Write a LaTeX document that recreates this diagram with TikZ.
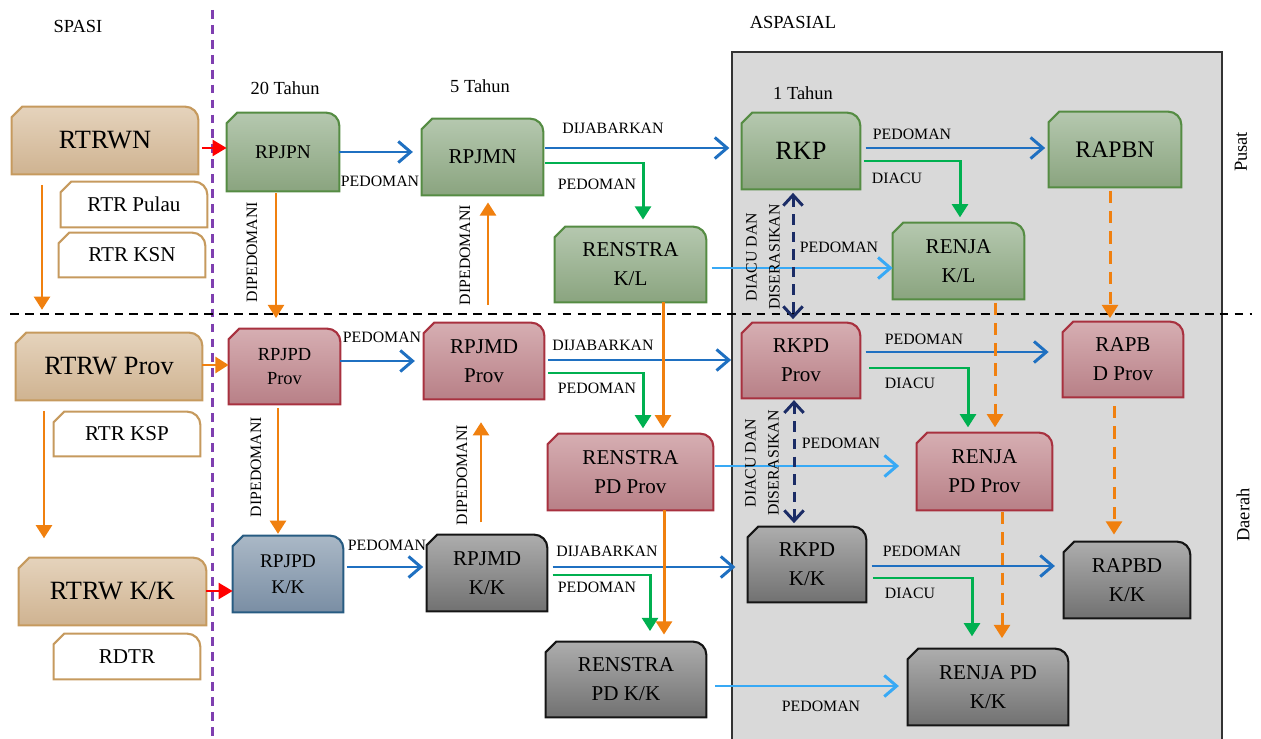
\documentclass[tikz,border=0pt]{standalone}
\usepackage{fontspec}
\setmainfont{Liberation Serif}
\usepackage{tikz}
\usetikzlibrary{calc,positioning,arrows.meta,backgrounds}

\definecolor{tanline}{HTML}{C69A5E}
\definecolor{tantop}{HTML}{E5D3BC}
\definecolor{tanbot}{HTML}{CFB391}
\definecolor{grnline}{HTML}{558C43}
\definecolor{grntop}{HTML}{B5C8AF}
\definecolor{grnbot}{HTML}{8AA47F}
\definecolor{redline}{HTML}{A8313F}
\definecolor{redtop}{HTML}{D6AEB2}
\definecolor{redbot}{HTML}{B88087}
\definecolor{bluline}{HTML}{285C82}
\definecolor{blutop}{HTML}{AAB8C6}
\definecolor{blubot}{HTML}{7A8EA4}
\definecolor{gryline}{HTML}{151515}
\definecolor{grytop}{HTML}{ADADAD}
\definecolor{grybot}{HTML}{717171}
\definecolor{panel}{HTML}{D9D9D9}
\definecolor{arblue}{HTML}{1F70C1}
\definecolor{arlight}{HTML}{38A9F5}
\definecolor{argreen}{HTML}{00B050}
\definecolor{arorange}{HTML}{F0800F}
\definecolor{arnavy}{HTML}{1B2C66}
\definecolor{arpurple}{HTML}{7F3FB0}

% box outline: cut top left corner, round top right corner
\newcommand{\planshape}[2]{%
  \path [#2] (#1.south west) -- ([yshift=-6pt]#1.north west)
    -- ([xshift=6pt]#1.north west) -- ([xshift=-7.5pt]#1.north east)
    arc [start angle=90, end angle=0, radius=7.5pt] -- (#1.south east) -- cycle;}

\begin{document}
\begin{tikzpicture}[
    x=0.02cm, y=-0.02cm,
    box/.style 2 args={inner sep=0pt, align=center,
        minimum width=#1*0.02cm, minimum height=#2*0.02cm},
    f15/.style={font=\fontsize{15}{19}\selectfont},
    f13/.style={font=\fontsize{13.5}{17}\selectfont},
    f12/.style={font=\fontsize{12}{16.5}\selectfont},
    f11/.style={font=\fontsize{11}{15}\selectfont},
    f10/.style={font=\fontsize{10.5}{14}\selectfont},
    lab/.style={font=\fontsize{9}{13}\selectfont, inner sep=0pt},
    head/.style={font=\fontsize{10.5}{12}\selectfont, inner sep=0pt},
    tanbox/.style={draw=tanline, line width=1.2pt, top color=tantop, bottom color=tanbot},
    whitebox/.style={draw=tanline, line width=1.2pt, fill=white},
    greenbox/.style={draw=grnline, line width=1.2pt, top color=grntop, bottom color=grnbot},
    redbox/.style={draw=redline, line width=1.2pt, top color=redtop, bottom color=redbot},
    bluebox/.style={draw=bluline, line width=1.2pt, top color=blutop, bottom color=blubot},
    greybox/.style={draw=gryline, line width=1.2pt, top color=grytop, bottom color=grybot},
    panelbox/.style={fill=panel, draw=black!80, line width=0.9pt},
    bluearrow/.style={draw=arblue, line width=1.7pt, -{Straight Barb[length=7pt,width=12pt]}},
    lightarrow/.style={draw=arlight, line width=1.7pt, -{Straight Barb[length=7pt,width=12pt]}},
    greenarrow/.style={draw=argreen, line width=1.7pt, -{Triangle[length=7.5pt,width=9pt]}},
    orangearrow/.style={draw=arorange, line width=1.7pt, -{Triangle[length=7.5pt,width=9pt]}},
    redarrow/.style={draw=red, line width=1.7pt, -{Triangle[length=8pt,width=9pt]}},
    orangedash/.style={orangearrow, dash pattern=on 7pt off 4.5pt},
    navyarrows/.style={draw=arnavy, line width=1.7pt, dash pattern=on 6pt off 4pt,
        {Straight Barb[length=6pt,width=11pt]}-{Straight Barb[length=6pt,width=11pt]}},
]
    \useasboundingbox (0,0) rectangle (1261,739);

    % headings
    \node[head] (spasi) at (78,26) {SPASI};
    \node[head] (aspasial) at (793,22) {ASPASIAL};
    \node[head] (t20) at (285,88) {20 Tahun};
    \node[head] (t5) at (480,86) {5 Tahun};
    \node[head] (t1) at (803,93) {1 Tahun};
    \node[head, rotate=90] (pusat) at (1241,152) {Pusat};
    \node[head, rotate=90] (daerah) at (1243,515) {Daerah};

    % pusat
    \node[box={186}{67}, f15] (rtrwn) at (105,140.5) {RTRWN};
    \node[box={146}{45}, f12] (rtrpulau) at (134,204.5) {RTR Pulau};
    \node[box={146}{44}, f12] (rtrksn) at (132,255) {RTR KSN};
    \node[box={112}{78}, f11] (rpjpn) at (283,152) {RPJPN};
    \node[box={121}{76}, f12] (rpjmn) at (482.5,157) {RPJMN};
    \node[box={151}{75}, f12] (renstrakl) at (630.5,264.5) {RENSTRA\\K/L};
    \node[box={118}{76}, f15] (rkp) at (801,151) {RKP};
    \node[box={132}{75}, f13] (rapbn) at (1115,149.5) {RAPBN};
    \node[box={131}{76}, f12] (renjakl) at (958.5,261) {RENJA\\K/L};

    % provinsi
    \node[box={186}{67}, f15] (rtrwprov) at (109,366.5) {RTRW Prov};
    \node[box={146}{44}, f12] (rtrksp) at (127,434) {RTR KSP};
    \node[box={111}{75}, f10] (rpjpdprov) at (284.5,366.5) {RPJPD\\Prov};
    \node[box={120}{76}, f12] (rpjmdprov) at (484,361) {RPJMD\\Prov};
    \node[box={165}{76}, f12] (renstrapdprov) at (630.5,472) {RENSTRA\\PD Prov};
    \node[box={118}{75}, f12] (rkpdprov) at (801,360.5) {RKPD\\Prov};
    \node[box={120}{75}, f12] (rapbdprov) at (1123,359.5) {RAPB\\D Prov};
    \node[box={135}{77}, f12] (renjapdprov) at (984.5,471.5) {RENJA\\PD Prov};

    % kabupaten/kota
    \node[box={187}{67}, f15] (rtrwkk) at (112.5,591.5) {RTRW K/K};
    \node[box={146}{45}, f12] (rdtr) at (127,656.5) {RDTR};
    \node[box={110}{76}, f11] (rpjpdkk) at (288,574) {RPJPD\\K/K};
    \node[box={120}{76}, f12] (rpjmdkk) at (487,573) {RPJMD\\K/K};
    \node[box={160}{75}, f12] (renstrapdkk) at (626,679.5) {RENSTRA\\PD K/K};
    \node[box={118}{75}, f12] (rkpdkk) at (807,564.5) {RKPD\\K/K};
    \node[box={126}{76}, f12] (rapbdkk) at (1127,580) {RAPBD\\K/K};
    \node[box={160}{76}, f12] (renjapdkk) at (988,687) {RENJA PD\\K/K};

    \begin{pgfonlayer}{background}
        \draw[panelbox] (732,52) rectangle (1222,745);
        \foreach \n in {rtrwn,rtrwprov,rtrwkk} {\planshape{\n}{tanbox}}
        \foreach \n in {rtrpulau,rtrksn,rtrksp,rdtr} {\planshape{\n}{whitebox}}
        \foreach \n in {rpjpn,rpjmn,renstrakl,rkp,rapbn,renjakl} {\planshape{\n}{greenbox}}
        \foreach \n in {rpjpdprov,rpjmdprov,renstrapdprov,rkpdprov,rapbdprov,renjapdprov}
            {\planshape{\n}{redbox}}
        \planshape{rpjpdkk}{bluebox}
        \foreach \n in {rpjmdkk,renstrapdkk,rkpdkk,rapbdkk,renjapdkk} {\planshape{\n}{greybox}}
    \end{pgfonlayer}

    \draw[arpurple, line width=1.2pt, dash pattern=on 5pt off 3.5pt] (212.5,10) -- (212.5,741);
    \draw[black, line width=1.2pt, dash pattern=on 5pt off 3.5pt] (10,314) -- (1252,314);

    % spasial
    \draw[redarrow, shorten <=2pt] (rtrwn.east |- 0,148) -- (rpjpn.west |- 0,148);
    \draw[orangearrow] (rtrwprov.east |- 0,365) -- (rpjpdprov.west |- 0,365);
    \draw[redarrow] (rtrwkk.east |- 0,591) -- (rpjpdkk.west |- 0,591);
    \draw[orangearrow, shorten <=6pt, shorten >=13pt] (rtrwn.south -| 42,0) -- (rtrwprov.north -| 42,0);
    \draw[orangearrow, shorten <=6pt, shorten >=11pt] (rtrwprov.south -| 44,0) -- (rtrwkk.north -| 44,0);

    % 20 tahun
    \draw[orangearrow, shorten <=1pt, shorten >=6pt] (rpjpn.south -| 276,0) -- (rpjpdprov.north -| 276,0);
    \draw[orangearrow, shorten <=2pt, shorten >=1pt] (rpjpdprov.south -| 278,0) -- (rpjpdkk.north -| 278,0);
    \draw[bluearrow, shorten >=5pt] (rpjpn.east |- 0,152) -- (rpjmn.west |- 0,152);
    \draw[bluearrow, shorten >=5pt] (rpjpdprov.east |- 0,361) -- (rpjmdprov.west |- 0,361);
    \draw[bluearrow, shorten <=2pt, shorten >=2pt] (rpjpdkk.east |- 0,567) -- (rpjmdkk.west |- 0,567);

    % 5 tahun
    \draw[orangearrow, shorten <=10pt, shorten >=4pt] (rpjmdprov.north -| 488,0) -- (rpjmn.south -| 488,0);
    \draw[orangearrow, shorten <=7pt, shorten >=13pt] (rpjmdkk.north -| 481,0) -- (rpjmdprov.south -| 481,0);
    \draw[bluearrow, shorten <=1pt, shorten >=7pt] (rpjmn.east |- 0,148) -- (rkp.west |- 0,148);
    \draw[bluearrow, shorten <=2pt, shorten >=6pt] (rpjmdprov.east |- 0,360) -- (rkpdprov.west |- 0,360);
    \draw[bluearrow, shorten <=3pt, shorten >=7pt] (rpjmdkk.east |- 0,567) -- (rkpdkk.west |- 0,567);
    \draw[greenarrow, shorten <=1pt, shorten >=4pt] (rpjmn.east |- 0,163) -| (renstrakl.north -| 643,0);
    \draw[greenarrow, shorten <=2pt, shorten >=3pt] (rpjmdprov.east |- 0,373) -| (renstrapdprov.north -| 643,0);
    \draw[greenarrow, shorten <=3pt, shorten >=6pt] (rpjmdkk.east |- 0,575) -| (renstrapdkk.north -| 650,0);
    \draw[orangearrow, shorten >=3pt] (renstrakl.south -| 663,0) -- (renstrapdprov.north -| 663,0);
    \draw[orangearrow, shorten >=4pt] (renstrapdprov.south -| 664,0) -- (renstrapdkk.north -| 664,0);
    \draw[lightarrow, shorten <=3pt] (renstrakl.east |- 0,268) -- (renjakl.west |- 0,268);
    \draw[lightarrow, shorten <=1pt, shorten >=10pt] (renstrapdprov.east |- 0,466) -- (renjapdprov.west |- 0,466);
    \draw[lightarrow, shorten <=5pt, shorten >=5pt] (renstrapdkk.east |- 0,686) -- (renjapdkk.west |- 0,686);

    % 1 tahun
    \draw[bluearrow, shorten <=3pt, shorten >=2pt] (rkp.east |- 0,148) -- (rapbn.west |- 0,148);
    \draw[bluearrow, shorten <=3pt, shorten >=8pt] (rkpdprov.east |- 0,352) -- (rapbdprov.west |- 0,352);
    \draw[bluearrow, shorten <=3pt, shorten >=5pt] (rkpdkk.east |- 0,566) -- (rapbdkk.west |- 0,566);
    \draw[greenarrow, shorten <=2pt, shorten >=3pt] (rkp.east |- 0,161) -| (renjakl.north -| 960,0);
    \draw[greenarrow, shorten <=5pt, shorten >=3pt] (rkpdprov.east |- 0,368) -| (renjapdprov.north -| 968,0);
    \draw[greenarrow, shorten <=4pt, shorten >=7pt] (rkpdkk.east |- 0,578) -| (renjapdkk.north -| 972,0);
    \draw[navyarrows, shorten <=2pt, shorten >=2pt] (rkp.south -| 793,0) -- (rkpdprov.north -| 793,0);
    \draw[navyarrows, shorten <=1pt, shorten >=2pt] (rkpdprov.south -| 794,0) -- (rkpdkk.north -| 794,0);
    \draw[orangedash, shorten <=2pt, shorten >=2pt] (rapbn.south -| 1110,0) -- (rapbdprov.north -| 1110,0);
    \draw[orangedash, shorten <=5pt, shorten >=4pt] (rapbdprov.south -| 1114,0) -- (rapbdkk.north -| 1114,0);
    \draw[orangedash, shorten <=2pt, shorten >=3pt] (renjakl.south -| 995,0) -- (renjapdprov.north -| 995,0);
    \draw[orangedash, shorten <=1pt, shorten >=6pt] (renjapdprov.south -| 1002,0) -- (renjapdkk.north -| 1002,0);

    % arrow labels
    \foreach \x/\y/\t [count=\i] in {380/181/PEDOMAN, 382/337/PEDOMAN, 387/545/PEDOMAN,
            613/128/DIJABARKAN, 603/345/DIJABARKAN, 607/551/DIJABARKAN,
            597/184/PEDOMAN, 597/388/PEDOMAN, 597/587/PEDOMAN,
            912/134/PEDOMAN, 924/339/PEDOMAN, 922/551/PEDOMAN,
            897/178/DIACU, 910/383/DIACU, 910/593/DIACU,
            839/247/PEDOMAN, 841/443/PEDOMAN, 821/706/PEDOMAN}
        \node[lab] (lab\i) at (\x,\y) {\t};
    \foreach \x/\y [count=\i] in {252/252, 465/255, 256/467, 462/475}
        \node[lab, rotate=90] (dip\i) at (\x,\y) {DIPEDOMANI};
    \node[lab, rotate=90, align=center] (acu1) at (763,257) {DIACU DAN\\DISERASIKAN};
    \node[lab, rotate=90, align=center] (acu2) at (762,463) {DIACU DAN\\DISERASIKAN};
\end{tikzpicture}
\end{document}
